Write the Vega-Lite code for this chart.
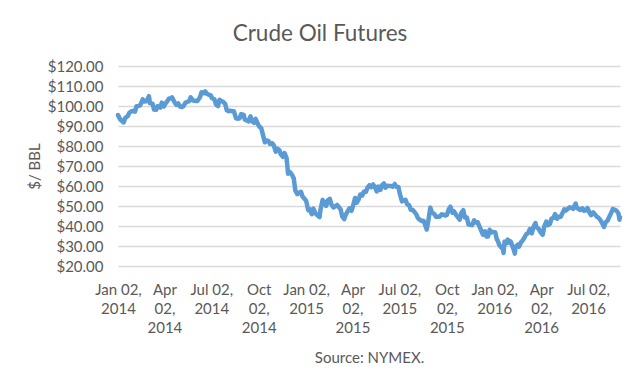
{
  "$schema": "https://vega.github.io/schema/vega-lite/v6.json",
  "width": 502,
  "height": 200,
  "autosize": {"type": "none"},
  "padding": {"left": 118, "top": 66, "right": 20, "bottom": 118},
  "background": "white",
  "title": {"text": "Crude Oil Futures", "fontSize": 22.5, "font": "Lato", "fontWeight": "normal", "color": "#595959", "anchor": "middle", "frame": "group", "dx": -49, "offset": 14},
  "config": {"view": {"stroke": null}, "font": "Lato"},
  "data": {"values": [
    {"date":"2014-01-02","price":95.44},{"date":"2014-01-06","price":93.43},{"date":"2014-01-09","price":92.59},{"date":"2014-01-13","price":91.80},{"date":"2014-01-16","price":93.96},{"date":"2014-01-21","price":94.99},{"date":"2014-01-24","price":96.64},{"date":"2014-01-28","price":97.41},{"date":"2014-01-31","price":97.49},
    {"date":"2014-02-04","price":97.19},{"date":"2014-02-07","price":99.88},{"date":"2014-02-11","price":100.06},{"date":"2014-02-14","price":100.30},{"date":"2014-02-19","price":103.31},{"date":"2014-02-21","price":102.20},{"date":"2014-02-26","price":102.41},
    {"date":"2014-03-03","price":104.92},{"date":"2014-03-05","price":101.45},{"date":"2014-03-10","price":101.12},{"date":"2014-03-13","price":98.20},{"date":"2014-03-17","price":98.08},{"date":"2014-03-20","price":99.90},{"date":"2014-03-25","price":99.19},{"date":"2014-03-28","price":101.67},
    {"date":"2014-04-01","price":99.74},{"date":"2014-04-04","price":101.14},{"date":"2014-04-08","price":102.56},{"date":"2014-04-11","price":103.74},{"date":"2014-04-15","price":103.75},{"date":"2014-04-17","price":104.30},{"date":"2014-04-22","price":101.75},{"date":"2014-04-25","price":100.60},{"date":"2014-04-29","price":101.28},
    {"date":"2014-05-02","price":99.76},{"date":"2014-05-06","price":99.50},{"date":"2014-05-09","price":99.99},{"date":"2014-05-13","price":101.70},{"date":"2014-05-16","price":102.02},{"date":"2014-05-20","price":102.44},{"date":"2014-05-23","price":104.35},{"date":"2014-05-28","price":102.72},
    {"date":"2014-06-02","price":102.47},{"date":"2014-06-05","price":102.48},{"date":"2014-06-10","price":104.35},{"date":"2014-06-13","price":106.91},{"date":"2014-06-17","price":106.36},{"date":"2014-06-20","price":107.26},{"date":"2014-06-24","price":106.03},{"date":"2014-06-27","price":105.74},
    {"date":"2014-07-01","price":105.34},{"date":"2014-07-03","price":104.06},{"date":"2014-07-08","price":103.40},{"date":"2014-07-11","price":100.83},{"date":"2014-07-15","price":99.96},{"date":"2014-07-18","price":103.13},{"date":"2014-07-22","price":102.39},{"date":"2014-07-25","price":102.09},{"date":"2014-07-29","price":100.97},
    {"date":"2014-08-01","price":97.88},{"date":"2014-08-05","price":97.38},{"date":"2014-08-08","price":97.65},{"date":"2014-08-12","price":97.37},{"date":"2014-08-15","price":97.35},{"date":"2014-08-19","price":93.86},{"date":"2014-08-22","price":93.65},{"date":"2014-08-26","price":93.86},{"date":"2014-08-29","price":95.96},
    {"date":"2014-09-03","price":95.54},{"date":"2014-09-05","price":93.29},{"date":"2014-09-09","price":92.75},{"date":"2014-09-12","price":92.27},{"date":"2014-09-16","price":94.88},{"date":"2014-09-19","price":92.41},{"date":"2014-09-23","price":91.56},{"date":"2014-09-26","price":93.54},{"date":"2014-09-30","price":91.16},
    {"date":"2014-10-03","price":89.74},{"date":"2014-10-07","price":88.85},{"date":"2014-10-10","price":85.82},{"date":"2014-10-14","price":81.84},{"date":"2014-10-17","price":82.75},{"date":"2014-10-21","price":82.49},{"date":"2014-10-24","price":81.01},{"date":"2014-10-28","price":81.42},{"date":"2014-10-31","price":80.54},
    {"date":"2014-11-04","price":77.19},{"date":"2014-11-07","price":78.65},{"date":"2014-11-11","price":77.94},{"date":"2014-11-14","price":75.82},{"date":"2014-11-18","price":74.61},{"date":"2014-11-21","price":76.51},{"date":"2014-11-25","price":74.09},{"date":"2014-11-28","price":66.15},
    {"date":"2014-12-02","price":66.88},{"date":"2014-12-05","price":65.84},{"date":"2014-12-09","price":63.82},{"date":"2014-12-12","price":57.81},{"date":"2014-12-16","price":55.93},{"date":"2014-12-19","price":56.52},{"date":"2014-12-23","price":57.12},{"date":"2014-12-26","price":54.73},{"date":"2014-12-31","price":53.27},
    {"date":"2015-01-02","price":52.69},{"date":"2015-01-06","price":47.93},{"date":"2015-01-09","price":48.36},{"date":"2015-01-13","price":45.89},{"date":"2015-01-16","price":48.69},{"date":"2015-01-20","price":46.39},{"date":"2015-01-23","price":45.59},{"date":"2015-01-28","price":44.45},{"date":"2015-01-30","price":48.24},
    {"date":"2015-02-03","price":53.05},{"date":"2015-02-06","price":51.69},{"date":"2015-02-10","price":50.02},{"date":"2015-02-13","price":52.78},{"date":"2015-02-17","price":53.53},{"date":"2015-02-20","price":50.81},{"date":"2015-02-24","price":49.25},{"date":"2015-02-27","price":49.76},
    {"date":"2015-03-03","price":50.52},{"date":"2015-03-06","price":49.61},{"date":"2015-03-10","price":48.29},{"date":"2015-03-13","price":44.84},{"date":"2015-03-17","price":43.46},{"date":"2015-03-20","price":45.72},{"date":"2015-03-24","price":47.51},{"date":"2015-03-27","price":48.87},{"date":"2015-03-31","price":47.60},
    {"date":"2015-04-02","price":49.14},{"date":"2015-04-07","price":53.98},{"date":"2015-04-10","price":51.64},{"date":"2015-04-14","price":53.29},{"date":"2015-04-17","price":55.74},{"date":"2015-04-21","price":55.26},{"date":"2015-04-24","price":57.15},{"date":"2015-04-28","price":57.06},
    {"date":"2015-05-01","price":59.15},{"date":"2015-05-05","price":60.40},{"date":"2015-05-08","price":59.39},{"date":"2015-05-12","price":60.75},{"date":"2015-05-15","price":59.69},{"date":"2015-05-19","price":57.26},{"date":"2015-05-22","price":59.72},{"date":"2015-05-26","price":58.03},{"date":"2015-05-29","price":60.30},
    {"date":"2015-06-02","price":61.26},{"date":"2015-06-05","price":59.13},{"date":"2015-06-09","price":60.14},{"date":"2015-06-12","price":59.96},{"date":"2015-06-16","price":59.97},{"date":"2015-06-19","price":59.61},{"date":"2015-06-23","price":61.01},{"date":"2015-06-26","price":59.63},{"date":"2015-06-30","price":59.47},
    {"date":"2015-07-02","price":56.93},{"date":"2015-07-07","price":52.33},{"date":"2015-07-10","price":52.74},{"date":"2015-07-14","price":53.04},{"date":"2015-07-17","price":50.89},{"date":"2015-07-21","price":50.36},{"date":"2015-07-24","price":48.14},{"date":"2015-07-28","price":47.98},{"date":"2015-07-31","price":47.12},
    {"date":"2015-08-04","price":45.74},{"date":"2015-08-07","price":43.87},{"date":"2015-08-11","price":43.08},{"date":"2015-08-14","price":42.50},{"date":"2015-08-18","price":42.62},{"date":"2015-08-21","price":40.45},{"date":"2015-08-24","price":38.24},{"date":"2015-08-27","price":42.56},{"date":"2015-08-31","price":49.20},
    {"date":"2015-09-03","price":46.75},{"date":"2015-09-08","price":45.94},{"date":"2015-09-11","price":44.63},{"date":"2015-09-15","price":44.59},{"date":"2015-09-18","price":44.68},{"date":"2015-09-22","price":45.83},{"date":"2015-09-25","price":45.70},{"date":"2015-09-29","price":45.23},
    {"date":"2015-10-02","price":45.54},{"date":"2015-10-06","price":48.53},{"date":"2015-10-09","price":49.63},{"date":"2015-10-13","price":46.66},{"date":"2015-10-16","price":47.26},{"date":"2015-10-20","price":45.55},{"date":"2015-10-23","price":44.60},{"date":"2015-10-27","price":43.20},{"date":"2015-10-30","price":46.59},
    {"date":"2015-11-03","price":47.90},{"date":"2015-11-06","price":44.29},{"date":"2015-11-10","price":44.21},{"date":"2015-11-13","price":40.74},{"date":"2015-11-17","price":40.67},{"date":"2015-11-20","price":40.39},{"date":"2015-11-24","price":42.87},{"date":"2015-11-27","price":41.71},
    {"date":"2015-12-01","price":41.85},{"date":"2015-12-04","price":39.97},{"date":"2015-12-08","price":37.51},{"date":"2015-12-11","price":35.62},{"date":"2015-12-15","price":37.35},{"date":"2015-12-18","price":34.73},{"date":"2015-12-21","price":34.74},{"date":"2015-12-24","price":38.10},{"date":"2015-12-28","price":36.81},{"date":"2015-12-31","price":37.04},
    {"date":"2016-01-04","price":36.76},{"date":"2016-01-07","price":33.27},{"date":"2016-01-08","price":33.16},{"date":"2016-01-12","price":30.44},{"date":"2016-01-15","price":29.42},{"date":"2016-01-19","price":28.46},{"date":"2016-01-20","price":26.55},{"date":"2016-01-22","price":32.19},{"date":"2016-01-26","price":31.45},{"date":"2016-01-28","price":33.22},
    {"date":"2016-02-01","price":31.62},{"date":"2016-02-03","price":32.28},{"date":"2016-02-05","price":30.89},{"date":"2016-02-09","price":27.94},{"date":"2016-02-11","price":26.21},{"date":"2016-02-12","price":29.44},{"date":"2016-02-17","price":30.66},{"date":"2016-02-19","price":29.64},{"date":"2016-02-23","price":31.87},{"date":"2016-02-26","price":32.78},
    {"date":"2016-03-01","price":34.40},{"date":"2016-03-04","price":35.92},{"date":"2016-03-08","price":36.50},{"date":"2016-03-11","price":38.50},{"date":"2016-03-15","price":36.34},{"date":"2016-03-18","price":39.44},{"date":"2016-03-22","price":41.45},{"date":"2016-03-24","price":39.46},{"date":"2016-03-29","price":38.28},
    {"date":"2016-04-01","price":36.79},{"date":"2016-04-05","price":35.70},{"date":"2016-04-08","price":39.72},{"date":"2016-04-12","price":42.17},{"date":"2016-04-15","price":40.36},{"date":"2016-04-19","price":41.08},{"date":"2016-04-22","price":43.73},{"date":"2016-04-26","price":44.04},{"date":"2016-04-29","price":45.92},
    {"date":"2016-05-03","price":43.65},{"date":"2016-05-06","price":44.66},{"date":"2016-05-10","price":44.66},{"date":"2016-05-13","price":46.21},{"date":"2016-05-17","price":48.31},{"date":"2016-05-20","price":47.75},{"date":"2016-05-24","price":48.62},{"date":"2016-05-27","price":49.33},{"date":"2016-05-31","price":49.10},
    {"date":"2016-06-03","price":48.62},{"date":"2016-06-08","price":51.23},{"date":"2016-06-10","price":49.07},{"date":"2016-06-14","price":48.49},{"date":"2016-06-17","price":47.98},{"date":"2016-06-21","price":48.85},{"date":"2016-06-24","price":47.64},{"date":"2016-06-28","price":47.85},
    {"date":"2016-07-01","price":48.99},{"date":"2016-07-05","price":46.60},{"date":"2016-07-08","price":45.41},{"date":"2016-07-12","price":46.80},{"date":"2016-07-15","price":45.95},{"date":"2016-07-19","price":44.65},{"date":"2016-07-22","price":44.19},{"date":"2016-07-26","price":42.92},{"date":"2016-07-29","price":41.60},
    {"date":"2016-08-02","price":39.51},{"date":"2016-08-05","price":41.80},{"date":"2016-08-09","price":42.77},{"date":"2016-08-12","price":44.49},{"date":"2016-08-16","price":46.58},{"date":"2016-08-19","price":48.52},{"date":"2016-08-23","price":48.10},{"date":"2016-08-26","price":47.64},{"date":"2016-08-30","price":46.35},
    {"date":"2016-09-01","price":43.16},{"date":"2016-09-02","price":44.44}
  ]},
  "mark": {"type": "line", "color": "#5B9BD5", "strokeWidth": 4.5, "strokeJoin": "round", "strokeCap": "round"},
  "encoding": {
    "x": {
      "field": "date", "type": "temporal",
      "scale": {"type": "utc", "domain": [{"year": 2014, "month": 1, "date": 2, "utc": true}, {"year": 2016, "month": 9, "date": 2, "utc": true}], "nice": false},
      "axis": {
        "values": [
          {"year": 2014, "month": 1, "date": 2, "utc": true}, {"year": 2014, "month": 4, "date": 2, "utc": true}, {"year": 2014, "month": 7, "date": 2, "utc": true}, {"year": 2014, "month": 10, "date": 2, "utc": true},
          {"year": 2015, "month": 1, "date": 2, "utc": true}, {"year": 2015, "month": 4, "date": 2, "utc": true}, {"year": 2015, "month": 7, "date": 2, "utc": true}, {"year": 2015, "month": 10, "date": 2, "utc": true},
          {"year": 2016, "month": 1, "date": 2, "utc": true}, {"year": 2016, "month": 4, "date": 2, "utc": true}, {"year": 2016, "month": 7, "date": 2, "utc": true}
        ],
        "labelExpr": "utcmonth(datum.value) % 6 == 0 ? [utcFormat(datum.value, '%b %d,'), utcFormat(datum.value, '%Y')] : [utcFormat(datum.value, '%b'), utcFormat(datum.value, '%d,'), utcFormat(datum.value, '%Y')]",
        "labelOverlap": false, "labelBound": false, "labelFlush": false,
        "ticks": false, "domain": false, "grid": false,
        "labelFont": "Lato", "labelFontSize": 15, "labelColor": "#595959", "labelPadding": 16, "labelLineHeight": 19,
        "title": "Source: NYMEX.", "titleFont": "Lato", "titleFontSize": 15, "titleFontWeight": "normal", "titleColor": "#595959", "titlePadding": 15
      }
    },
    "y": {
      "field": "price", "type": "quantitative",
      "scale": {"domain": [20, 120], "nice": false, "zero": false},
      "axis": {
        "values": [20, 30, 40, 50, 60, 70, 80, 90, 100, 110, 120],
        "format": "$.2f",
        "ticks": false, "domain": false,
        "grid": true, "gridColor": "#D9D9D9", "gridWidth": 1.3,
        "labelFont": "Lato", "labelFontSize": 15, "labelColor": "#595959", "labelPadding": 15,
        "title": "$/ BBL", "titleFont": "Lato", "titleFontSize": 15, "titleFontWeight": "normal", "titleColor": "#595959", "titlePadding": 5
      }
    }
  }
}
